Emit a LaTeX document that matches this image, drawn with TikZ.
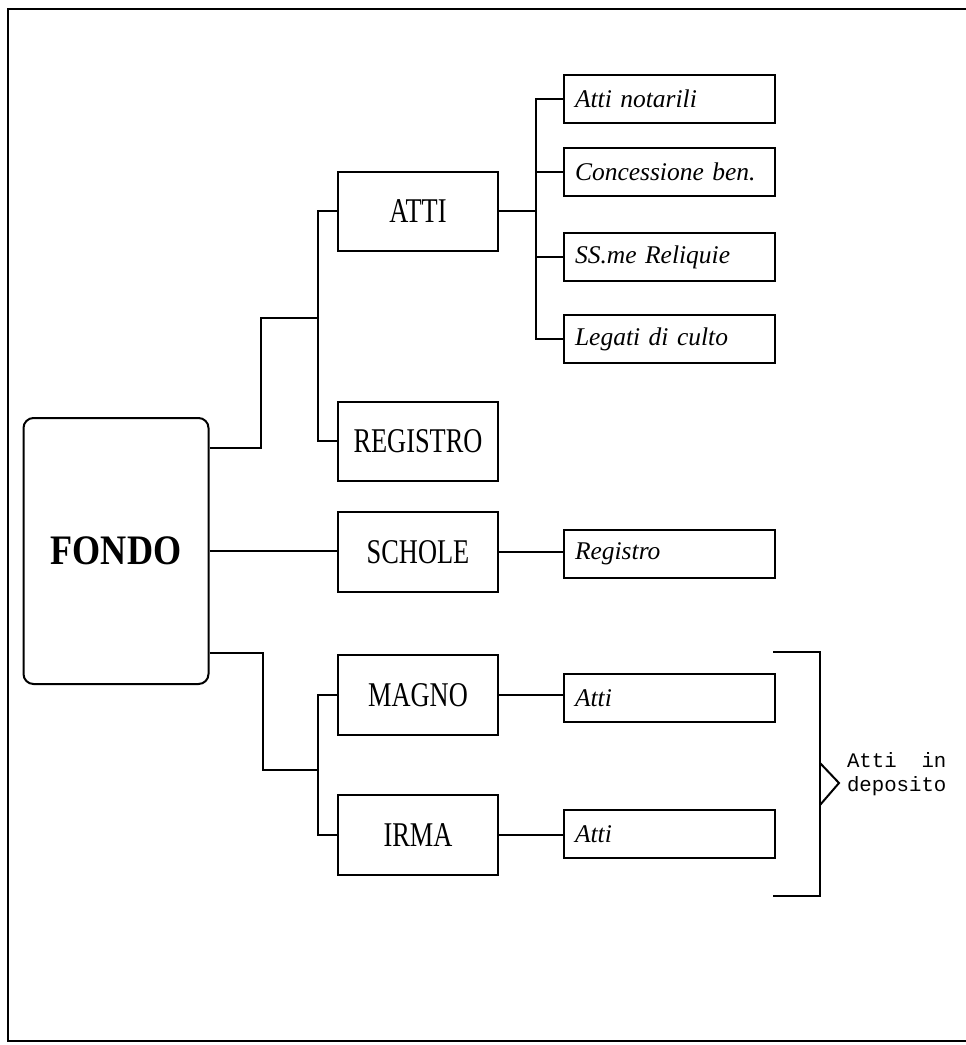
\documentclass[tikz,border=0pt]{standalone}
\usepackage{fontspec}
\setmainfont{Liberation Serif}
\newfontfamily\capsfont[FakeStretch=0.76]{Liberation Serif}
\newfontfamily\fondofont[FakeStretch=0.86]{Liberation Serif}
\newfontfamily\monofont{Liberation Mono}
\usepackage{tikz}

\begin{document}
\begin{tikzpicture}[x=1pt, y=-1pt, line width=2pt,
    titlebox/.style={draw, minimum width=160pt, minimum height=79pt, inner sep=0pt,
        font=\capsfont\fontsize{34.7}{40}\selectfont},
    itembox/.style={draw, anchor=west, minimum height=48pt, text width=189pt,
        inner xsep=11pt, inner ysep=0pt, align=left,
        font=\itshape\fontsize{25.5}{30}\selectfont}]
    \useasboundingbox (0,0) rectangle (966,1045);
    % frame
    \draw (966,9) -- (8,9) -- (8,1041) -- (966,1041);

    \node[draw, rounded corners=10pt, minimum width=185pt, minimum height=266pt,
        font=\fondofont\bfseries\fontsize{42}{48}\selectfont] (fondo) at (116,551) {FONDO};

    \node[titlebox] (atti) at (418,211) {ATTI};
    \node[titlebox] (registro) at (418,441) {REGISTRO};
    \node[titlebox, minimum height=80pt] (schole) at (418,552) {SCHOLE};
    \node[titlebox, minimum height=80pt] (magno) at (418,695) {MAGNO};
    \node[titlebox, minimum height=80pt] (irma) at (418,835) {IRMA};

    \node[itembox] (notarili) at (563,99) {Atti notarili};
    \node[itembox] (concessione) at (563,172) {Concessione ben.};
    \node[itembox] (reliquie) at (563,257) {SS.me Reliquie};
    \node[itembox] (legati) at (563,339) {Legati di culto};
    \node[itembox] (registrosch) at (563,554) {Registro};
    \node[itembox] (attimagno) at (563,698) {Atti};
    \node[itembox] (attiirma) at (563,834) {Atti};

    % connectors
    \coordinate (upj) at (318,318);
    \coordinate (lowj) at (318,770);
    \draw ([yshift=103pt]fondo.east) -| (261,318) -- (upj);
    \draw (atti.west) -| (upj) |- (registro.west);
    \draw (fondo.east) -- (fondo.east -| schole.west);
    \draw ([yshift=-102pt]fondo.east) -| (263,770) -- (lowj);
    \draw (magno.west) -| (lowj) |- (irma.west);

    \coordinate (attij) at ([xshift=37pt]atti.east);
    \draw (atti.east) -- (attij);
    \foreach \c in {notarili,concessione,reliquie,legati}
        \draw (attij) |- (\c.west);
    \draw (schole.east) -- (schole.east -| registrosch.west);
    \draw (magno.east) -- (magno.east -| attimagno.west);
    \draw (irma.east) -- (irma.east -| attiirma.west);

    % bracket
    \draw (773,652) -| (820,896) -- (773,896);
    \draw (820,763) -- (839,783) -- (820,805);
    \node[anchor=west, align=left, inner sep=0pt,
        font=\monofont\fontsize{20.7}{24}\selectfont] (deposito) at (846,774)
        {Atti\ \ in\\deposito};
\end{tikzpicture}
\end{document}
